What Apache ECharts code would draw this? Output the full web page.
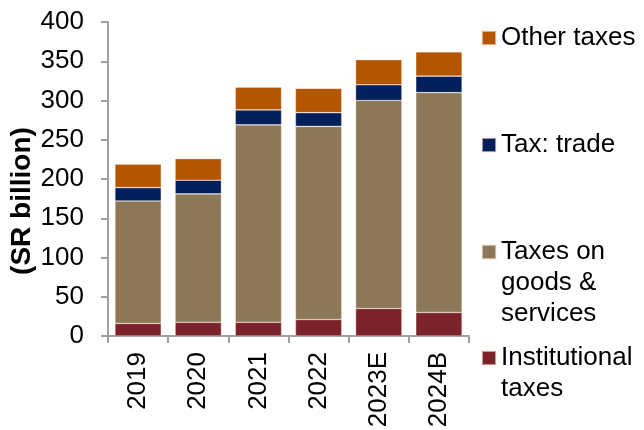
<!DOCTYPE html>
<html>
<head>
<meta charset="utf-8">
<script src="https://cdn.jsdelivr.net/npm/echarts@6/dist/echarts.min.js"></script>
<style>
  html, body { margin: 0; padding: 0; background: #fff; }
  #chart { width: 644px; height: 430px; }
</style>
</head>
<body>
<div id="chart"></div>
<script>
// Tax revenue breakdown, SR billion
const years = ['2019', '2020', '2021', '2022', '2023E', '2024B'];
const institutionalTaxes = [16, 17.5, 17.5, 21, 35, 30];
const goodsServicesTaxes = [156, 163.5, 251.5, 246, 265, 280];
const tradeTaxes = [17, 17.5, 19, 17.5, 20, 21];
const otherTaxes = [30, 27.5, 29, 31, 32, 31];
const yTicks = { min: 0, max: 400, interval: 50 };

const FONT = 'Liberation Sans, Arial, sans-serif';
const AXIS_GREY = '#a0a0a0';
const LINE_H = 31;

const names = {
  inst: 'Institutional\ntaxes',
  goods: 'Taxes on\ngoods &\nservices',
  trade: 'Tax: trade',
  other: 'Other taxes'
};

function bar(name, data, color) {
  return {
    name: name,
    type: 'bar',
    stack: 'total',
    data: data,
    barCategoryGap: '23%',
    itemStyle: { color: color, borderColor: 'rgba(255,235,220,0.6)', borderWidth: 0.6 }
  };
}

// One legend block per entry; blank leading lines keep the swatch level
// with the first line of a wrapped label.
function legendItem(name, iconCenterY) {
  const lines = name.split('\n').length;
  const shown = '\n'.repeat(lines - 1) + name;
  const half = (2 * lines - 1) * LINE_H / 2;
  return {
    data: [name],
    left: 481,
    top: iconCenterY - half,
    padding: 0,
    selectedMode: false,
    icon: 'rect',
    itemWidth: 14,
    itemHeight: 14,
    formatter: function () { return shown; },
    textStyle: {
      fontFamily: FONT,
      fontSize: 26,
      color: '#000',
      lineHeight: LINE_H
    }
  };
}

const chart = echarts.init(document.getElementById('chart'), null, { renderer: 'canvas' });
chart.setOption({
  animation: false,
  backgroundColor: '#fff',
  grid: { left: 108, right: 175, top: 22, bottom: 94, containLabel: false, outerBoundsMode: 'none' },
  legend: [
    legendItem(names.other, 38),
    legendItem(names.trade, 145),
    legendItem(names.goods, 252),
    legendItem(names.inst, 358)
  ],
  xAxis: {
    type: 'category',
    data: years,
    axisLine: { lineStyle: { color: AXIS_GREY, width: 2 } },
    axisTick: { show: true, length: 7, lineStyle: { color: AXIS_GREY, width: 2 } },
    axisLabel: {
      rotate: 90,
      margin: 16,
      fontFamily: FONT,
      fontSize: 26,
      color: '#000'
    }
  },
  yAxis: {
    type: 'value',
    min: yTicks.min,
    max: yTicks.max,
    interval: yTicks.interval,
    name: '(SR billion)',
    nameLocation: 'middle',
    nameRotate: 90,
    nameGap: 72,
    nameMoveOverlap: false,
    nameTextStyle: {
      fontFamily: FONT,
      fontSize: 28,
      fontWeight: 'bold',
      color: '#000',
      padding: [0, 44, 0, 0]
    },
    splitLine: { show: false },
    axisLine: { show: true, lineStyle: { color: AXIS_GREY, width: 2 } },
    axisTick: { show: true, length: 7, lineStyle: { color: AXIS_GREY, width: 2 } },
    axisLabel: {
      margin: 24,
      fontFamily: FONT,
      fontSize: 26,
      color: '#000'
    }
  },
  series: [
    bar(names.inst, institutionalTaxes, '#7b222a'),
    bar(names.goods, goodsServicesTaxes, '#8c7858'),
    bar(names.trade, tradeTaxes, '#00205b'),
    bar(names.other, otherTaxes, '#b45500')
  ]
});
</script>
</body>
</html>
